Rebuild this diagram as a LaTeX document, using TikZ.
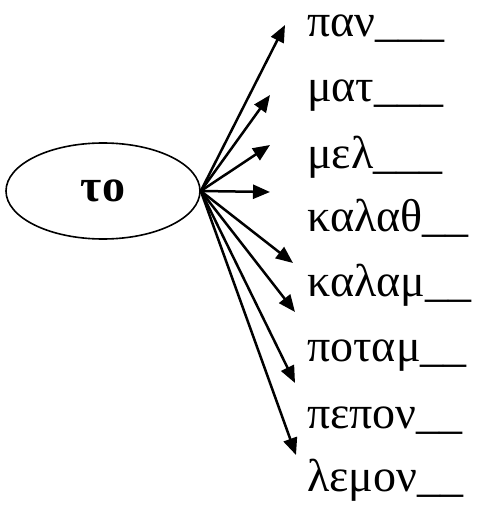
\documentclass[tikz,border=0pt]{standalone}
\usepackage{fontspec}
\setmainfont{Liberation Serif}
\usetikzlibrary{arrows.meta,shapes.geometric}
\begin{document}
\begin{tikzpicture}[x=1pt,y=-1pt,
  word/.style={anchor=base west,inner sep=0pt,font=\fontsize{46}{46}\selectfont},
  arr/.style={line width=2.5pt,-{Triangle[length=17pt,width=14pt]}}]
\useasboundingbox (0,0) rectangle (481,505);
\node[ellipse,draw,line width=1.6pt,minimum width=194pt,minimum height=96pt,inner sep=0pt,font=\fontsize{46}{46}\bfseries\selectfont] (ell) at (103,191) {το};
\node[word] (w1) at (307,37) {παν\_\_\_};
\node[word] (w2) at (307,102) {ματ\_\_\_};
\node[word] (w3) at (307,168) {μελ\_\_\_};
\node[word] (w4) at (307,231) {καλαθ\_\_};
\node[word] (w5) at (307,296) {καλαμ\_\_};
\node[word] (w6) at (307,361) {ποταμ\_\_};
\node[word] (w7) at (307,428) {πεπον\_\_};
\node[word] (w8) at (307,491) {λεμον\_\_};
\coordinate (t1) at (285,25);
\coordinate (t2) at (270,95);
\coordinate (t3) at (270,145);
\coordinate (t4) at (270,192);
\coordinate (t5) at (293,263);
\coordinate (t6) at (295,312);
\coordinate (t7) at (295,383);
\coordinate (t8) at (296,455);
\foreach \i in {1,...,8} \draw[arr] (ell.east) -- (t\i);
\end{tikzpicture}
\end{document}
